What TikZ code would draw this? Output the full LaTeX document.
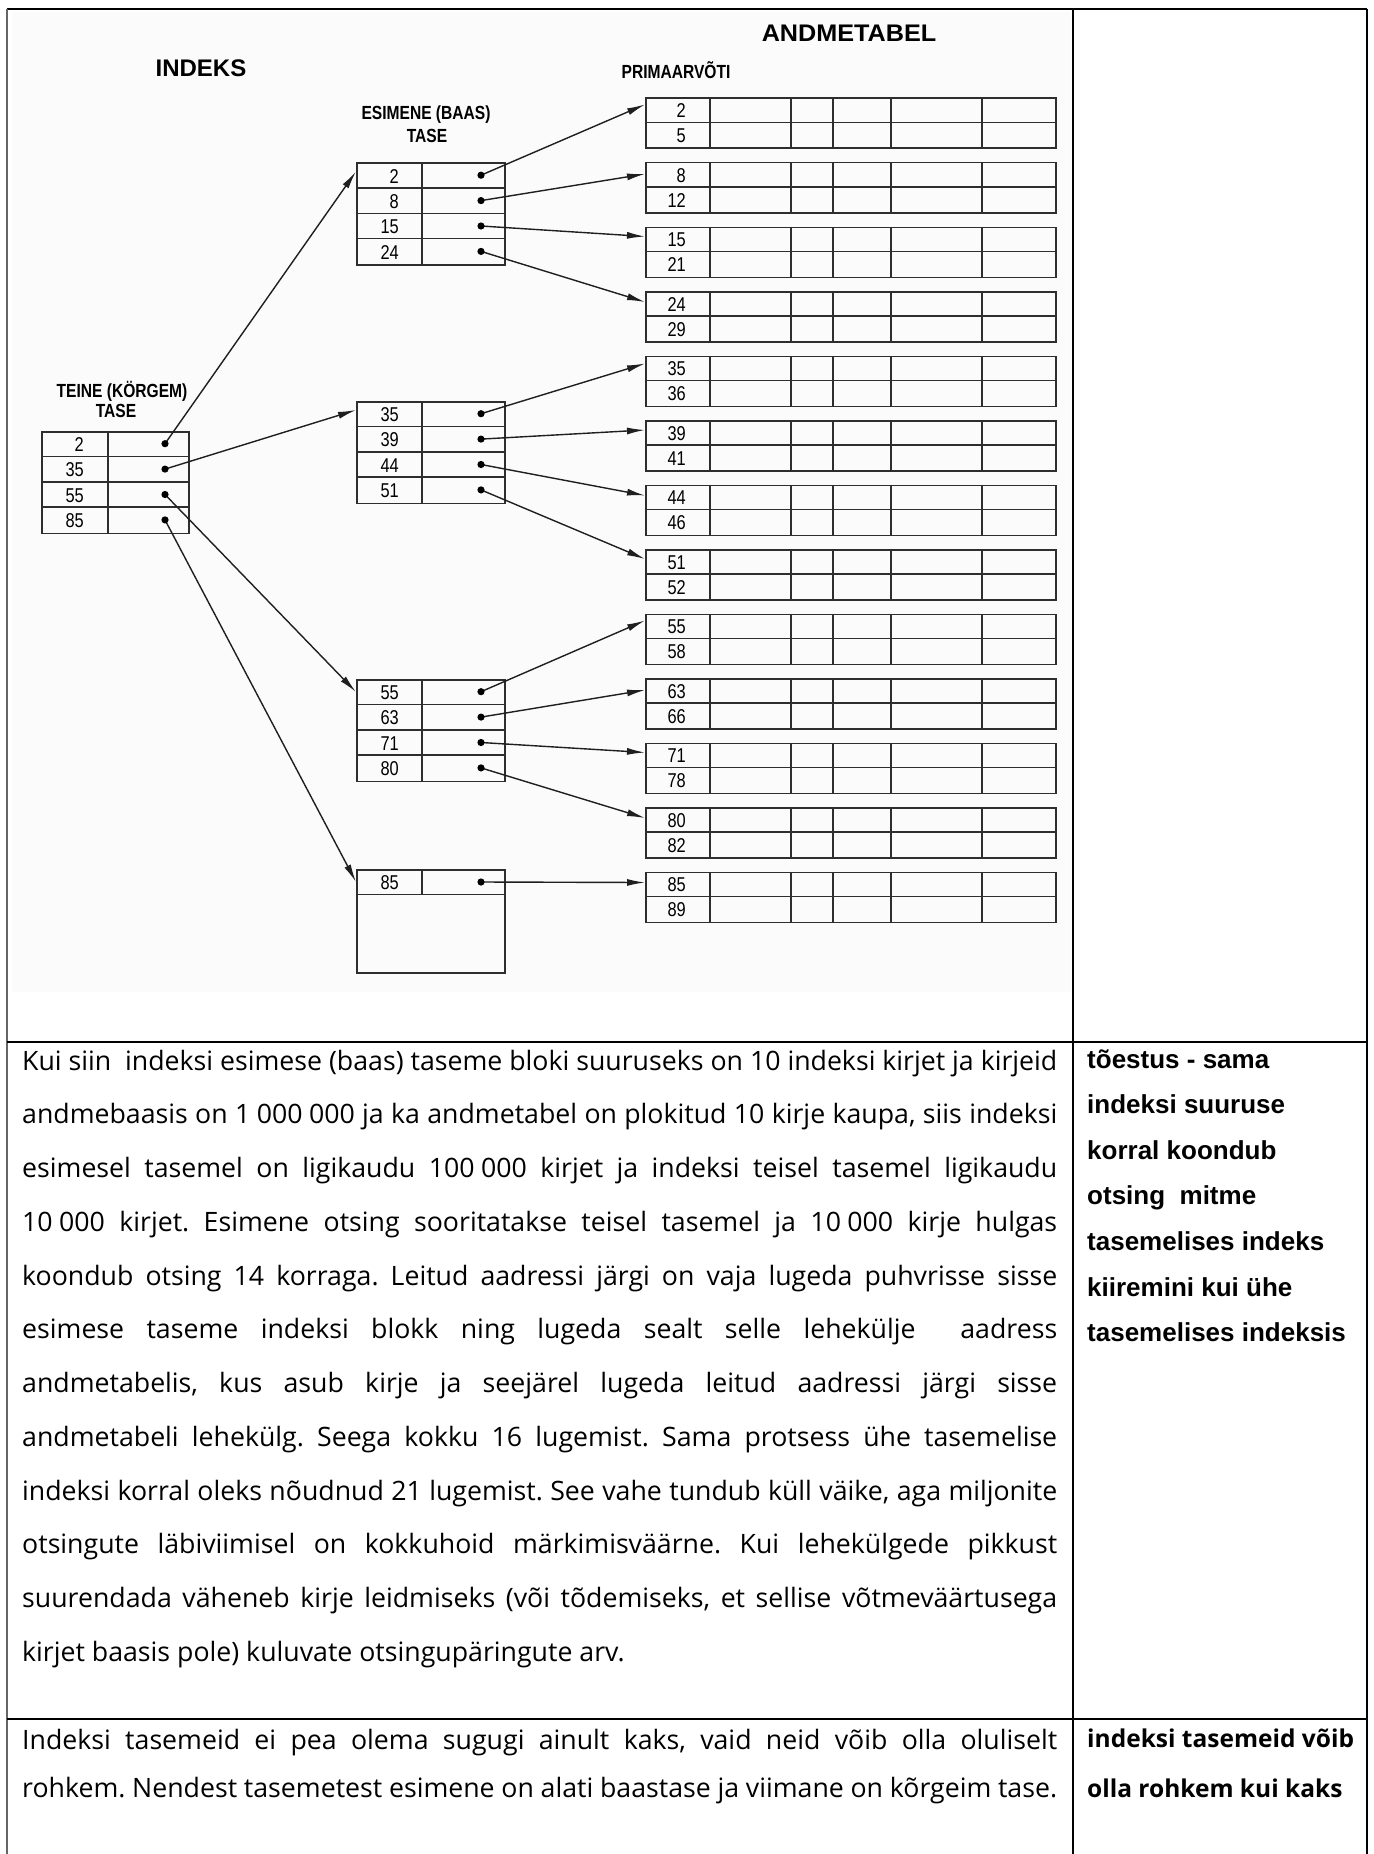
\documentclass[tikz,border=0pt]{standalone}
\usepackage{graphicx}
\usepackage{fontspec}
\setmainfont{Open Sans}
\newfontfamily\arialf{Liberation Sans}
\usetikzlibrary{arrows.meta}
\newcommand\cnd[1]{\scalebox{0.82}[1]{#1}}
\newcommand\nbs{\hspace{0.24em}}
\frenchspacing
\tikzset{
  grid/.style={draw=black!82, line width=1.5pt},
  blk/.style={draw=black!82, line width=1.5pt, anchor=north west, inner sep=0pt, minimum width=148pt},
  tbl/.style={draw=black!82, line width=1.5pt, anchor=north west, inner sep=0pt, minimum width=410pt, minimum height=50pt},
  arr/.style={draw=black!88, line width=1.4pt, -{Latex[length=18pt,width=7pt]}},
  num/.style={anchor=east, inner sep=0pt, font=\arialf\fontsize{20}{22}\selectfont},
  lbl/.style={inner sep=0pt, font=\arialf\bfseries\fontsize{19}{21}\selectfont},
  ttl/.style={inner sep=0pt, font=\arialf\bfseries\fontsize{24}{26}\selectfont},
  body/.style={anchor=base west, inner sep=0pt, font=\fontsize{26.7}{30}\selectfont},
  side/.style={anchor=base west, inner sep=0pt, font=\arialf\bfseries\fontsize{26}{30}\selectfont},
  sideb/.style={anchor=base west, inner sep=0pt, font=\bfseries\fontsize{24.5}{30}\selectfont},
  frame/.style={draw=black, line width=2.5pt}
}
\begin{document}
\begin{tikzpicture}[x=1pt,y=-1pt]
\useasboundingbox (0,0) rectangle (1373,1854);
% faint scan background
\fill[black!1.5] (12,12) rectangle (1071,992);

% ---------- titles ----------
\node[ttl] (indeks) at (201,68) {INDEKS};
\node[ttl] (andme) at (849,33) {\scalebox{1.05}[1]{ANDMETABEL}};
\node[lbl] (prim) at (676,70) {\cnd{PRIMAARVÕTI}};
\node[lbl] (esim1) at (426,115) {\cnd{ESIMENE (BAAS)}};
\node[lbl] (esim2) at (427,136) {\cnd{TASE}};
\node[lbl] (teine1) at (122,391) {\cnd{TEINE (KÖRGEM)}};
\node[lbl] (teine2) at (116,411) {\cnd{TASE}};

% ---------- data tables ----------
\foreach \i/\ka/\kb/\off in {1/2/5/7, 2/8/12/12, 3/15/21/10, 4/24/29/11,
                            5/35/36/8, 6/39/41/10, 7/44/46/11, 8/51/52/10,
                            9/55/58/7, 10/63/66/12, 11/71/78/10, 12/80/82/11,
                            13/85/89/11} {
  \pgfmathsetmacro\ty{97.5+64.5*(\i-1)}
  \node[tbl] (T\i) at (645,\ty) {};
  \draw[grid] (645,\ty+25) -- (1055,\ty+25);
  \foreach \xx in {710,791,833,891,982} \draw[grid] (\xx,\ty) -- (\xx,\ty+50);
  \node[num] (T\i a) at (686,\ty+13.5) {\cnd{\ka}};
  \node[num] (T\i b) at (686,\ty+38.5) {\cnd{\kb}};
  \coordinate (T\i in) at (645,\ty+\off);
}

% ---------- first level index blocks ----------
\foreach \bn/\ty/\la/\lb/\lc/\ld in {A/162.5/2/8/15/24, B/401/35/39/44/51, C/679/55/63/71/80} {
  \node[blk, minimum height=101.6pt] (\bn) at (356,\ty) {};
  \draw[grid] (422,\ty) -- (422,\ty+101.6);
  \foreach \rr in {1,2,3} \draw[grid] (356,\ty+25.4*\rr) -- (504,\ty+25.4*\rr);
  \foreach \rr/\lab in {0/\la,1/\lb,2/\lc,3/\ld} {
    \node[num] (\bn k\rr) at (399,\ty+13.7+25.4*\rr) {\cnd{\lab}};
    \coordinate (\bn d\rr) at (481,\ty+12.7+25.4*\rr);
  }
}
% last block (one entry)
\node[blk, minimum height=103pt] (D) at (356,869) {};
\draw[grid] (356,894.4) -- (504,894.4);
\draw[grid] (422,869) -- (422,894.4);
\node[num] (Dk0) at (399,883) {\cnd{85}};
\coordinate (Dd0) at (481,882);

% ---------- second level index block ----------
\node[blk, minimum width=147pt, minimum height=101.6pt] (E) at (41,431) {};
\draw[grid] (108,431) -- (108,532.6);
\foreach \rr in {1,2,3} \draw[grid] (41,431+25.4*\rr) -- (188,431+25.4*\rr);
\foreach \rr/\lab in {0/2,1/35,2/55,3/85} {
  \node[num] (Ek\rr) at (84,432+12.7+25.4*\rr) {\cnd{\lab}};
  \coordinate (Ed\rr) at (165,431+12.7+25.4*\rr);
}

% entry points of first level blocks
\coordinate (Ain) at (356,171.5);
\coordinate (Bin) at (356,410);
\coordinate (Cin) at (356,692);
\coordinate (Din) at (356,882);

% ---------- arrows ----------
\draw[arr] (Ed0) -- (Ain);
\draw[arr] (Ed1) -- (Bin);
\draw[arr] (Ed2) -- (Cin);
\draw[arr] (Ed3) -- (Din);
\draw[arr] (Ad0) -- (T1in);
\draw[arr] (Ad1) -- (T2in);
\draw[arr] (Ad2) -- (T3in);
\draw[arr] (Ad3) -- (T4in);
\draw[arr] (Bd0) -- (T5in);
\draw[arr] (Bd1) -- (T6in);
\draw[arr] (Bd2) -- (T7in);
\draw[arr] (Bd3) -- (T8in);
\draw[arr] (Cd0) -- (T9in);
\draw[arr] (Cd1) -- (T10in);
\draw[arr] (Cd2) -- (T11in);
\draw[arr] (Cd3) -- (T12in);
\draw[arr] (Dd0) -- (T13in);
% dots
\foreach \pp in {Ad0,Ad1,Ad2,Ad3,Bd0,Bd1,Bd2,Bd3,Cd0,Cd1,Cd2,Cd3,Dd0,Ed0,Ed1,Ed2,Ed3}
  \fill (\pp) circle (3.6pt);

% ---------- outer table ----------
\draw[frame] (7,9) -- (1367,9);
\draw[frame] (1367,9) -- (1367,1854);
\draw[draw=black!60, line width=2.5pt] (7,9) -- (7,1854);
\draw[frame] (7,1042) -- (1367,1042);
\draw[frame] (7,1719) -- (1367,1719);
\draw[draw=black, line width=1.3pt] (1073,9) -- (1073,1854);

% ---------- paragraph 1 ----------
\node[body] (p1) at (22,1070) {\makebox[1035pt][s]{Kui siin~ indeksi esimese (baas) taseme bloki suuruseks on 10 indeksi kirjet ja kirjeid}};
\node[body] (p2) at (22,1123.75) {\makebox[1035pt][s]{andmebaasis on 1\nbs 000\nbs 000 ja ka andmetabel on plokitud 10 kirje kaupa, siis indeksi}};
\node[body] (p3) at (22,1177.5) {\makebox[1035pt][s]{esimesel tasemel on ligikaudu 100\nbs 000 kirjet ja indeksi teisel tasemel ligikaudu}};
\node[body] (p4) at (22,1231.25) {\makebox[1035pt][s]{10\nbs 000 kirjet. Esimene otsing sooritatakse teisel tasemel ja 10\nbs 000 kirje hulgas}};
\node[body] (p5) at (22,1285) {\makebox[1035pt][s]{koondub otsing 14 korraga. Leitud aadressi järgi on vaja lugeda puhvrisse sisse}};
\node[body] (p6) at (22,1338.75) {\makebox[1035pt][s]{esimese taseme indeksi blokk ning lugeda sealt selle lehekülje~ aadress}};
\node[body] (p7) at (22,1392.5) {\makebox[1035pt][s]{andmetabelis, kus asub kirje ja seejärel lugeda leitud aadressi järgi sisse}};
\node[body] (p8) at (22,1446.25) {\makebox[1035pt][s]{andmetabeli lehekülg. Seega kokku 16 lugemist. Sama protsess ühe tasemelise}};
\node[body] (p9) at (22,1500) {\makebox[1035pt][s]{indeksi korral oleks nõudnud 21 lugemist. See vahe tundub küll väike, aga miljonite}};
\node[body] (p10) at (22,1553.75) {\makebox[1035pt][s]{otsingute läbiviimisel on kokkuhoid märkimisväärne. Kui lehekülgede pikkust}};
\node[body] (p11) at (22,1607.5) {\makebox[1035pt][s]{suurendada väheneb kirje leidmiseks (või tõdemiseks, et sellise võtmeväärtusega}};
\node[body] (p12) at (22,1661.25) {kirjet baasis pole) kuluvate otsingupäringute arv.};

% ---------- side notes 1 ----------
\node[side] (s1) at (1087,1068) {tõestus - sama};
\node[side] (s2) at (1087,1113.6) {indeksi suuruse};
\node[side] (s3) at (1087,1159.2) {korral koondub};
\node[side] (s4) at (1087,1204.8) {otsing~ mitme};
\node[side] (s5) at (1087,1250.4) {tasemelises indeks};
\node[side] (s6) at (1087,1296) {kiiremini kui ühe};
\node[side] (s7) at (1087,1341.6) {tasemelises indeksis};

% ---------- paragraph 2 ----------
\node[body] (q1) at (22,1749) {\makebox[1035pt][s]{Indeksi tasemeid ei pea olema sugugi ainult kaks, vaid neid võib olla oluliselt}};
\node[body] (q2) at (22,1797) {\makebox[1035pt][s]{rohkem. Nendest tasemetest esimene on alati baastase ja viimane on kõrgeim tase.}};
\node[sideb] (t1) at (1087,1747) {indeksi tasemeid võib};
\node[sideb] (t2) at (1087,1797) {olla rohkem kui kaks};
\end{tikzpicture}
\end{document}
